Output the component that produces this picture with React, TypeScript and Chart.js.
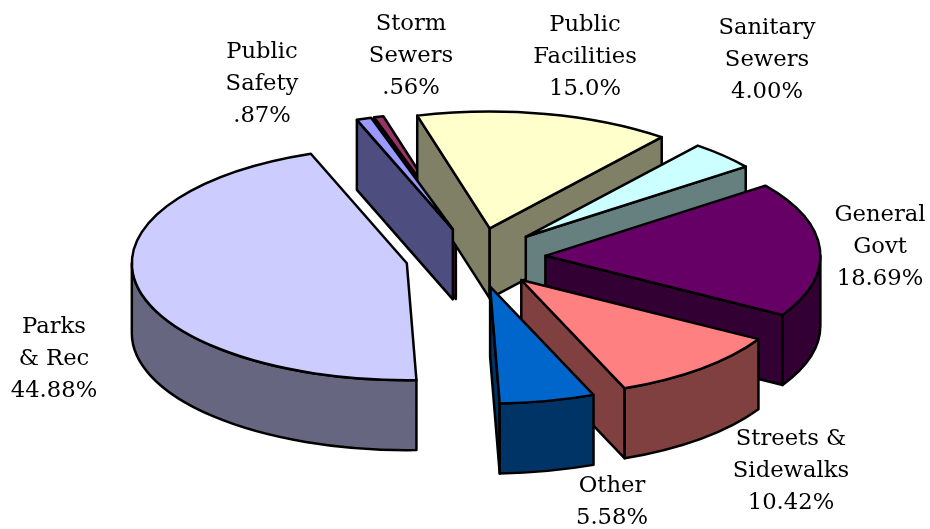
import React, { useEffect, useRef } from "react";
import { Chart, ArcElement, DoughnutController } from "chart.js";

// Values, in drawing order (back to front), clockwise from the Storm Sewers slice
const categories = ["Storm Sewers", "Public Facilities", "Sanitary Sewers", "General Govt", "Streets & Sidewalks", "Other", "Parks & Rec", "Public Safety"];
const values = [0.56, 15.0, 4.0, 18.69, 10.42, 5.58, 44.88, 0.87];
const valueLabels = [".56%", "15.0%", "4.00%", "18.69%", "10.42%", "5.58%", "44.88%", ".87%"];
const labelLines = [["Storm", "Sewers"], ["Public", "Facilities"], ["Sanitary", "Sewers"], ["General", "Govt"], ["Streets &", "Sidewalks"], ["Other"], ["Parks", "& Rec"], ["Public", "Safety"]];
const colors = ["#993366", "#FFFFCC", "#CCFFFF", "#660066", "#FF8080", "#0066CC", "#CCCCFF", "#9999FF"];

// Layout
const labelAnchors = [[411, 30], [585, 31], [767, 34], [880, 221], [791, 445], [612, 492], [54, 333], [262, 58]];
const LINE_HEIGHT = 32;
const TILT = 0.425;
const DEPTH = 70;
const START_DEG = -17.3;
const RADIUS = 275;
const EXPLODE = 70;

function shade(hex: string) {
  const n = parseInt(hex.slice(1), 16);
  const h = (v: number) => Math.round(v / 2);
  return `rgb(${h((n >> 16) & 255)},${h((n >> 8) & 255)},${h(n & 255)})`;
}

class Arc3D extends ArcElement {
  static id = "arc3d";
  static defaults = { ...ArcElement.defaults };
  static defaultRoutes = ArcElement.defaultRoutes;

  draw(ctx: CanvasRenderingContext2D) {
    const { x, y, startAngle: s, endAngle: e, outerRadius: r, options: o } = this as any;
    const mid = (s + e) / 2;
    const ax = x + Math.cos(mid) * EXPLODE;
    const ay = y + Math.sin(mid) * EXPLODE * TILT;
    const px = (a: number) => ax + Math.cos(a) * r;
    const py = (a: number) => ay + Math.sin(a) * r * TILT;

    ctx.save();
    ctx.lineWidth = o.borderWidth;
    ctx.strokeStyle = o.borderColor;
    ctx.lineJoin = "round";
    ctx.fillStyle = shade(o.backgroundColor);

    const wall = (a: number) => {
      ctx.beginPath();
      ctx.moveTo(ax, ay);
      ctx.lineTo(px(a), py(a));
      ctx.lineTo(px(a), py(a) + DEPTH);
      ctx.lineTo(ax, ay + DEPTH);
      ctx.closePath();
      ctx.fill();
      ctx.stroke();
    };
    if (Math.cos(s) < 0) wall(s);
    if (Math.cos(e) > 0) wall(e);

    // outer rim: the part of the slice facing the viewer (canvas angles 0..PI)
    for (const k of [-1, 0, 1]) {
      const from = Math.max(s, k * 2 * Math.PI);
      const to = Math.min(e, k * 2 * Math.PI + Math.PI);
      if (to > from) {
        ctx.beginPath();
        ctx.ellipse(ax, ay, r, r * TILT, 0, from, to);
        ctx.lineTo(px(to), py(to) + DEPTH);
        ctx.ellipse(ax, ay + DEPTH, r, r * TILT, 0, to, from, true);
        ctx.closePath();
        ctx.fill();
        ctx.stroke();
      }
    }

    ctx.fillStyle = o.backgroundColor;
    ctx.beginPath();
    ctx.moveTo(ax, ay);
    ctx.ellipse(ax, ay, r, r * TILT, 0, s, e);
    ctx.closePath();
    ctx.fill();
    ctx.stroke();
    ctx.restore();
  }
}

Chart.register(DoughnutController, ArcElement, Arc3D);
(Chart.defaults.datasets as any).doughnut.dataElementType = "arc3d";

const labelPlugin = {
  id: "sliceLabels",
  afterDatasetsDraw(chart: Chart) {
    const { ctx } = chart;
    ctx.save();
    ctx.font = '22.7px "DejaVu Serif"';
    ctx.fillStyle = "#000";
    ctx.textAlign = "center";
    ctx.textBaseline = "alphabetic";
    categories.forEach((_, i) => {
      const [lx, ly] = labelAnchors[i];
      [...labelLines[i], valueLabels[i]].forEach((line, j) => {
        ctx.fillText(line, lx, ly + j * LINE_HEIGHT);
      });
    });
    ctx.restore();
  },
};

export default function App() {
  const ref = useRef<HTMLCanvasElement>(null);
  useEffect(() => {
    const chart = new Chart(ref.current!, {
      type: "doughnut",
      data: {
        labels: categories,
        datasets: [{
          data: values,
          backgroundColor: colors,
          borderColor: "#000000",
          borderWidth: 2.5,
          clip: false,
        } as any],
      },
      options: {
        responsive: false,
        animation: false,
        events: [],
        cutout: 0,
        radius: RADIUS,
        rotation: START_DEG,
        layout: { padding: { left: 21, bottom: 14 } },
        plugins: { legend: { display: false }, tooltip: { enabled: false } },
      } as any,
      plugins: [labelPlugin],
    });
    return () => chart.destroy();
  }, []);
  return (
    <canvas
      ref={ref}
      width={930}
      height={529}
      style={{ position: "fixed", left: 0, top: 0, width: 930, height: 529, display: "block" }}
    />
  );
}
